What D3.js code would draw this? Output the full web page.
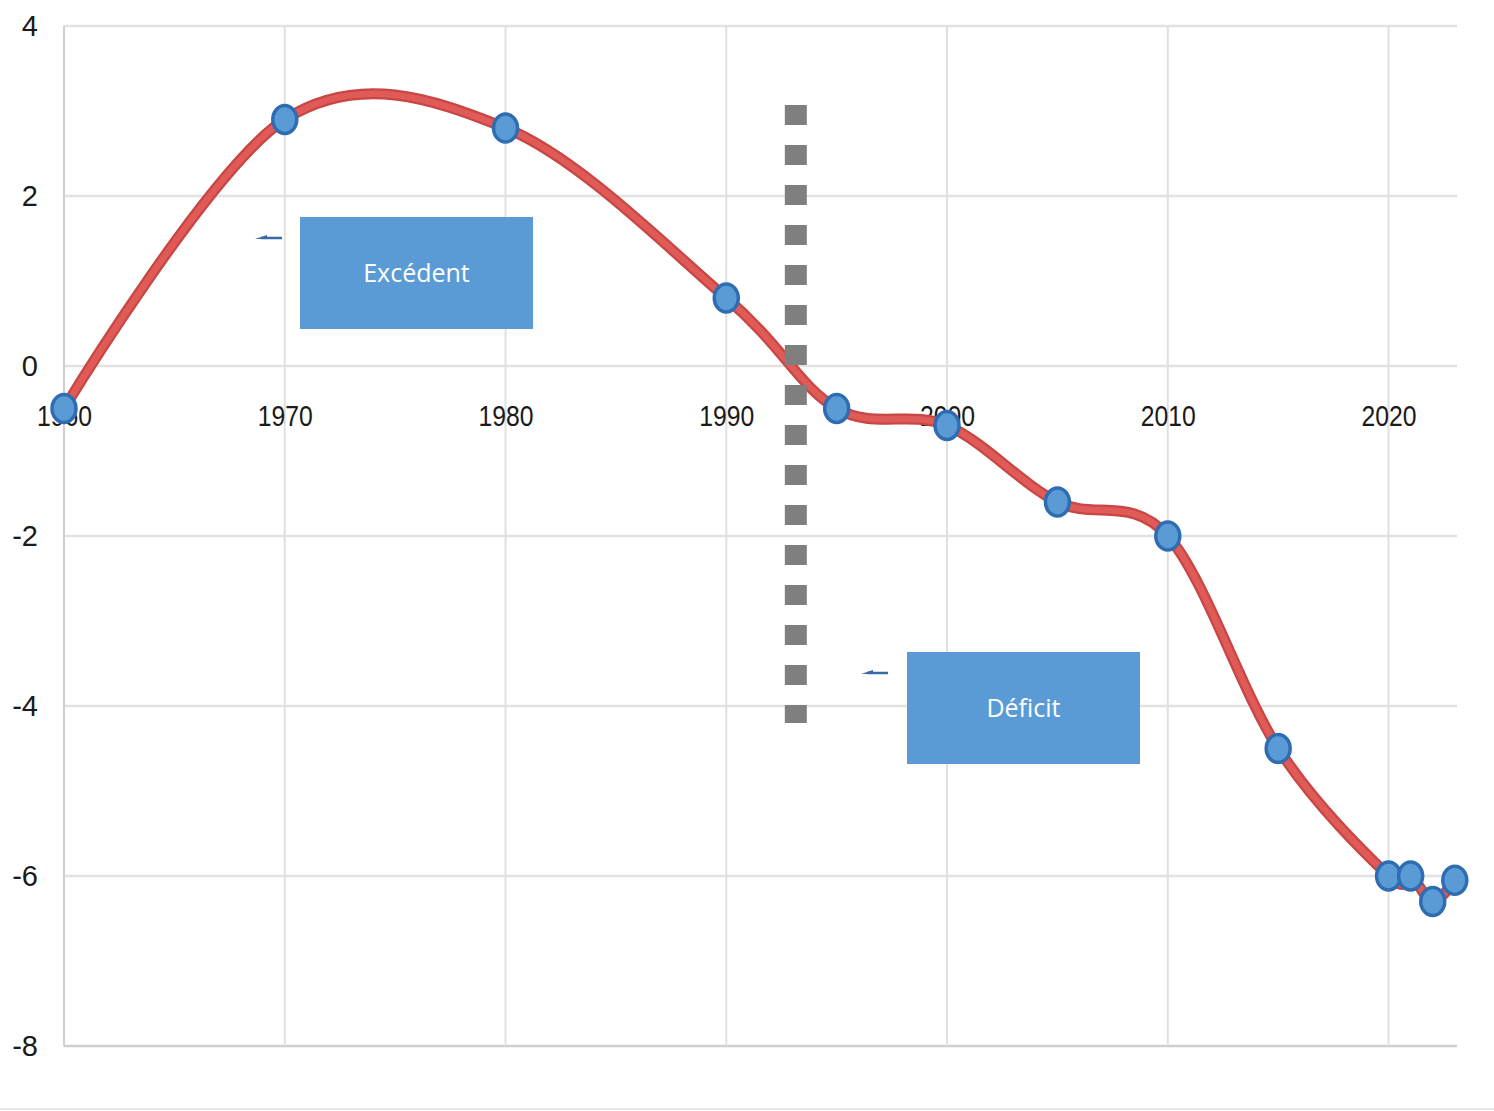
<!DOCTYPE html>
<html>
<head>
<meta charset="utf-8">
<script src="https://cdn.jsdelivr.net/npm/d3@7"></script>
<style>
  html, body { margin: 0; padding: 0; background: #ffffff; }
  svg { display: block; }
</style>
</head>
<body>
<svg id="chart" width="1494" height="1111"></svg>
<script>
// Balance by year (points on the smoothed curve)
const years   = [1960, 1970, 1980, 1990, 1995, 2000, 2005, 2010, 2015, 2020, 2021, 2022, 2023];
const balance = [-0.5, 2.9, 2.8, 0.8, -0.5, -0.7, -1.6, -2.0, -4.5, -6.0, -6.0, -6.3, -6.05];

// Axis ticks
const xTicks = [1960, 1970, 1980, 1990, 2000, 2010, 2020];
const yTicks = [4, 2, 0, -2, -4, -6, -8];

// Surplus / deficit divider and its labels
const dividerYear = 1993.15;
const dividerRange = [3.07, -4.2];
const zoneLabels = ["Excédent", "Déficit"];

const svg = d3.select("#chart");
const W = 1494, H = 1111;

const x = d3.scaleLinear().domain([1960, 2023.1]).range([64, 1457]);
const y = d3.scaleLinear().domain([-8, 4]).range([1046, 26]);

// Gridlines
const grid = svg.append("g");
grid.selectAll("line.h").data(yTicks).join("line")
  .attr("class", "h")
  .attr("x1", x(1960)).attr("x2", x(2023.1))
  .attr("y1", d => y(d)).attr("y2", d => y(d))
  .attr("stroke", d => d === -8 ? "#cfcfcf" : "#e2e2e2")
  .attr("stroke-width", 2.5);
grid.selectAll("line.v").data(xTicks).join("line")
  .attr("class", "v")
  .attr("x1", d => x(d)).attr("x2", d => x(d))
  .attr("y1", y(4)).attr("y2", y(-8))
  .attr("stroke", d => d === 1960 ? "#cfcfcf" : "#e0e0e0")
  .attr("stroke-width", 2);

// Y axis labels
svg.append("g").selectAll("text").data(yTicks).join("text")
  .attr("x", 38).attr("y", d => y(d))
  .attr("dy", "0.36em")
  .attr("text-anchor", "end")
  .attr("font-family", "Liberation Sans, Arial, sans-serif")
  .attr("font-size", 29)
  .attr("fill", "#1a1a1a")
  .text(d => d < 0 ? "-" + Math.abs(d) : String(d));

// X axis labels, set just under the zero line
svg.append("g").selectAll("text").data(xTicks).join("text")
  .attr("x", d => x(d) - 27).attr("y", 426)
  .attr("textLength", 55)
  .attr("lengthAdjust", "spacingAndGlyphs")
  .attr("font-family", "Liberation Sans, Arial, sans-serif")
  .attr("font-size", 30)
  .attr("fill", "#1a1a1a")
  .text(d => d);

// Smoothed balance line
const pts = years.map((yr, i) => [yr, balance[i]]);
const line = d3.line()
  .x(d => x(d[0]))
  .y(d => y(d[1]))
  .curve(d3.curveCardinal.tension(0));

svg.append("path").datum(pts)
  .attr("d", line)
  .attr("fill", "none")
  .attr("stroke", "#c84643")
  .attr("stroke-width", 11)
  .attr("stroke-linecap", "round");
svg.append("path").datum(pts)
  .attr("d", line)
  .attr("fill", "none")
  .attr("stroke", "#e05a57")
  .attr("stroke-width", 6.5)
  .attr("stroke-linecap", "round");

// Markers
svg.append("g").selectAll("ellipse").data(pts).join("ellipse")
  .attr("cx", d => x(d[0])).attr("cy", d => y(d[1]))
  .attr("rx", 12).attr("ry", 14)
  .attr("fill", "#5b9bd5")
  .attr("stroke", "#2f6db3")
  .attr("stroke-width", 3.5);

// Dashed divider
svg.append("line")
  .attr("x1", x(dividerYear)).attr("x2", x(dividerYear))
  .attr("y1", y(dividerRange[0])).attr("y2", y(dividerRange[1]))
  .attr("stroke", "#7f7f7f")
  .attr("stroke-width", 22)
  .attr("stroke-dasharray", "20 20");

// Zone label boxes with small pointer marks
const boxes = [
  { text: zoneLabels[0], bx: 300, by: 217, ax: 255, ay: 238 },
  { text: zoneLabels[1], bx: 907, by: 652, ax: 861, ay: 673 }
];
const bw = 233, bh = 112;
const ann = svg.append("g").selectAll("g").data(boxes).join("g");
ann.append("rect")
  .attr("x", d => d.bx).attr("y", d => d.by)
  .attr("width", bw).attr("height", bh)
  .attr("fill", "#5b9bd5");
ann.append("text")
  .attr("x", d => d.bx + bw / 2).attr("y", d => d.by + bh / 2)
  .attr("dy", "0.35em")
  .attr("text-anchor", "middle")
  .attr("font-family", "Open Sans, Lato, sans-serif")
  .attr("font-size", 25)
  .attr("fill", "#ffffff")
  .text(d => d.text);
ann.append("line")
  .attr("x1", d => d.ax + 6).attr("x2", d => d.ax + 27)
  .attr("y1", d => d.ay).attr("y2", d => d.ay)
  .attr("stroke", "#3a6aa5").attr("stroke-width", 2.5);
ann.append("path")
  .attr("d", d => `M${d.ax},${d.ay + 1} L${d.ax + 12},${d.ay - 3} L${d.ax + 12},${d.ay + 1} Z`)
  .attr("fill", "#3a6aa5");

// Bottom rule
svg.append("line")
  .attr("x1", 0).attr("x2", W)
  .attr("y1", 1109).attr("y2", 1109)
  .attr("stroke", "#e6e6e6").attr("stroke-width", 2);
</script>
</body>
</html>
